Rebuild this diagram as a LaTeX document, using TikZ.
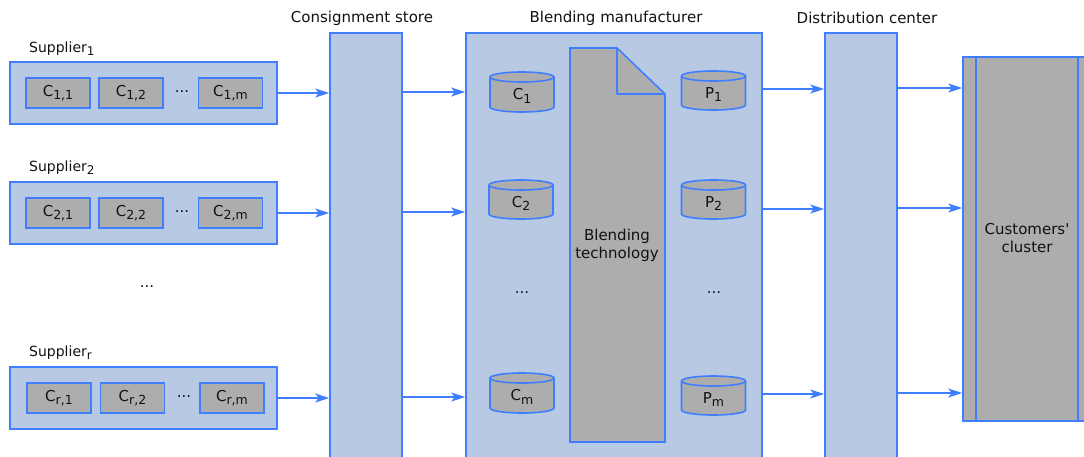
\documentclass[tikz,border=0pt]{standalone}
\usepackage{fontspec}
\newfontfamily\labelfont{DejaVu Sans}
\usetikzlibrary{arrows.meta}

\definecolor{paneblue}{HTML}{B7C9E3}
\definecolor{edgeblue}{HTML}{3F7FFF}
\definecolor{itemgray}{HTML}{ADADAD}
\definecolor{inkblack}{HTML}{111111}

% lowered index set in the same face
\newcommand{\lowsub}[1]{\raisebox{-3.5pt}{\fontsize{12.5}{14}\selectfont #1}}
\newcommand{\lowsubsm}[1]{\raisebox{-3pt}{\fontsize{12}{13}\selectfont #1}}

% storage tank: name, centre x, top y, bottom y, label
\newcommand{\tank}[5]{%
  \draw[tankline] ({#2-32},{#3+5}) -- ({#2-32},{#4-5})
    arc[start angle=180,end angle=360,x radius=32pt,y radius=5pt]
    -- ({#2+32},{#3+5})
    arc[start angle=0,end angle=180,x radius=32pt,y radius=5pt] -- cycle;
  \draw[tankline,fill=none] ({#2-32},{#3+5})
    arc[start angle=180,end angle=360,x radius=32pt,y radius=5pt];
  \node[txt] (#1) at (#2,{(#3+#4)/2+4}) {#5};
}

\begin{document}
\begin{tikzpicture}[x=1pt,y=-1pt,
  txt/.style={inner sep=0pt,text=inkblack,font=\labelfont\fontsize{15}{18}\selectfont},
  pane/.style={draw=edgeblue,fill=paneblue,line width=1.6pt,inner sep=0pt},
  item/.style={draw=edgeblue,fill=itemgray,line width=1.6pt,inner sep=0pt,
    minimum width=64pt,minimum height=30pt,text=inkblack,
    font=\labelfont\fontsize{15}{18}\selectfont},
  tankline/.style={draw=edgeblue,fill=itemgray,line width=1.6pt},
  supname/.style={txt,anchor=west,font=\labelfont\fontsize{14}{16}\selectfont},
  title/.style={txt},
  flow/.style={draw=edgeblue,line width=1.6pt,-{Stealth[length=14pt,width=9pt,inset=3.5pt]}}
]
\useasboundingbox (0,0) rectangle (1084,456);
\clip (0,0) rectangle (1084,456);

% ---------- suppliers ----------
\node[pane,minimum width=267pt,minimum height=62pt] (s1) at (143.5,93) {};
\node[pane,minimum width=267pt,minimum height=62pt] (s2) at (143.5,213) {};
\node[pane,minimum width=267pt,minimum height=62pt] (sr) at (143.5,398) {};

\node[supname] (s1name) at (29,49) {Supplier\lowsubsm{1}};
\node[supname] (s2name) at (29,168) {Supplier\lowsubsm{2}};
\node[supname] (srname) at (29,353) {Supplier\lowsubsm{r}};

\node[item] (s1a) at (58,93) {C\lowsub{1,1}};
\node[item] (s1b) at (131,93) {C\lowsub{1,2}};
\node[txt]  (s1d) at (182,92) {...};
\node[item] (s1m) at (230.5,93) {C\lowsub{1,m}};

\node[item] (s2a) at (58,213) {C\lowsub{2,1}};
\node[item] (s2b) at (131,213) {C\lowsub{2,2}};
\node[txt]  (s2d) at (182,212) {...};
\node[item] (s2m) at (230.5,213) {C\lowsub{2,m}};

\node[item] (sra) at (59,398) {C\lowsub{r,1}};
\node[item] (srb) at (132.5,398) {C\lowsub{r,2}};
\node[txt]  (srd) at (184,397) {...};
\node[item] (srm) at (232,398) {C\lowsub{r,m}};

\node[txt] (sdots) at (147,287) {...};

% ---------- consignment store ----------
\node[pane,minimum width=72pt,minimum height=440pt] (cons) at (366,253) {};
\node[title] (consname) at (362,18) {Consignment store};

% ---------- blending manufacturer ----------
\node[pane,minimum width=296pt,minimum height=440pt] (bm) at (614,253) {};
\node[title] (bmname) at (616,18) {Blending manufacturer};

\coordinate (dnw) at (570,48);
\coordinate (dfold) at (617,48);
\coordinate (dcorner) at (665,94);
\coordinate (dse) at (665,442);
\coordinate (dsw) at (570,442);
\draw[tankline] (dnw) -- (dfold) -- (dcorner) -- (dse) -- (dsw) -- cycle;
\draw[tankline,fill=none,line join=round] (dfold) -- (dfold |- dcorner) -- (dcorner);
\node[txt,align=center] (tech) at (617,245) {Blending\\technology};

\tank{c1}{522}{72}{112}{C\lowsub{1}}
\tank{c2}{521}{180}{219}{C\lowsub{2}}
\tank{cm}{522}{373}{413}{C\lowsub{m}}
\tank{p1}{713.5}{71}{110}{P\lowsub{1}}
\tank{p2}{713.5}{180}{219}{P\lowsub{2}}
\tank{pm}{713.5}{376}{415}{P\lowsub{m}}

\node[txt] (cdots) at (522,293) {...};
\node[txt] (pdots) at (714,293) {...};

% ---------- distribution center ----------
\node[pane,minimum width=72pt,minimum height=440pt] (dc) at (861,253) {};
\node[title] (dcname) at (867,18) {Distribution center};

% ---------- customers ----------
\node[draw=edgeblue,fill=itemgray,line width=1.6pt,inner sep=0pt,
      minimum width=129pt,minimum height=364pt] (cust) at (1027.5,239) {};
\draw[edgeblue,line width=1.6pt] (976,57) -- (976,421);
\draw[edgeblue,line width=1.6pt] (1078,57) -- (1078,421);
\node[txt,align=center] (custname) at (1027,238) {Customers'\\cluster};

% ---------- flows ----------
\coordinate (ya1) at (0,92);  \coordinate (yb1) at (0,89);  \coordinate (yc1) at (0,88);
\coordinate (ya2) at (0,212); \coordinate (yb2) at (0,209); \coordinate (yc2) at (0,208);
\coordinate (ya3) at (0,397); \coordinate (yb3) at (0,394); \coordinate (yc3) at (0,393);

\draw[flow] (s1.east) -- (s1.east -| cons.west);
\draw[flow] (s2.east) -- (s2.east -| cons.west);
\draw[flow] (sr.east) -- (sr.east -| cons.west);

\draw[flow] (cons.east |- ya1) -- (bm.west |- ya1);
\draw[flow] (cons.east |- ya2) -- (bm.west |- ya2);
\draw[flow] (cons.east |- ya3) -- (bm.west |- ya3);

\draw[flow] (bm.east |- yb1) -- (dc.west |- yb1);
\draw[flow] (bm.east |- yb2) -- (dc.west |- yb2);
\draw[flow] (bm.east |- yb3) -- (dc.west |- yb3);

\draw[flow] (dc.east |- yc1) -- (cust.west |- yc1);
\draw[flow] (dc.east |- yc2) -- (cust.west |- yc2);
\draw[flow] (dc.east |- yc3) -- (cust.west |- yc3);
\end{tikzpicture}
\end{document}
